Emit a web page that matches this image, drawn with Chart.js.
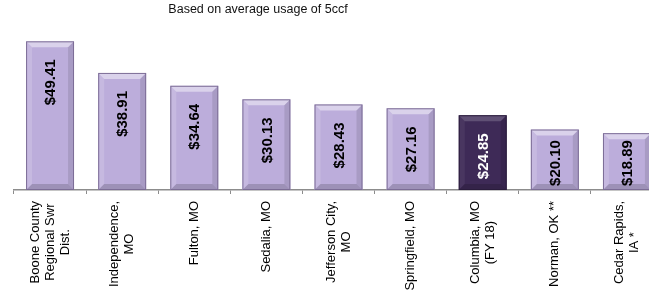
<!DOCTYPE html>
<html>
<head>
<meta charset="utf-8">
<script src="https://cdn.jsdelivr.net/npm/chart.js@4.4.1/dist/chart.umd.min.js"></script>
<style>
  html, body { margin: 0; padding: 0; background: #fff; overflow: hidden; }
  #wrap { width: 670px; height: 292px; }
</style>
</head>
<body>
<div id="wrap"><canvas id="billChart" width="670" height="292"></canvas></div>
<script>
// chart data
const cities = [
  ["Boone County", "Regional Swr", "Dist."],
  ["Independence,", "MO"],
  ["Fulton, MO"],
  ["Sedalia, MO"],
  ["Jefferson City,", "MO"],
  ["Springfield, MO"],
  ["Columbia, MO", "(FY 18)"],
  ["Norman, OK **"],
  ["Cedar Rapids,", "IA *"]
];
const monthlyBill = [49.41, 38.91, 34.64, 30.13, 28.43, 27.16, 24.85, 20.10, 18.89];
const highlightCity = 6; // Columbia
const subtitleText = "Based on average usage of 5ccf";

const LIGHT = "#bcaddb";
const DARK = "#3e2a57";

function fmtMoney(v) {
  return "$" + v.toFixed(2);
}

// bevel look on every bar + value labels
const bevelPlugin = {
  id: "bevel",
  afterDatasetsDraw(chart) {
    const ctx = chart.ctx;
    const meta = chart.getDatasetMeta(0);
    meta.data.forEach((bar, i) => {
      const l = bar.x - bar.width / 2, r = bar.x + bar.width / 2;
      const t = bar.y, b = bar.base;
      const s = 6;
      const dark = i === highlightCity;
      ctx.save();
      // top
      ctx.fillStyle = dark ? "rgba(255,255,255,0.18)" : "rgba(255,255,255,0.45)";
      ctx.beginPath();
      ctx.moveTo(l, t); ctx.lineTo(r, t); ctx.lineTo(r - s, t + s); ctx.lineTo(l + s, t + s);
      ctx.closePath(); ctx.fill();
      // left
      ctx.fillStyle = dark ? "rgba(255,255,255,0.06)" : "rgba(255,255,255,0.15)";
      ctx.beginPath();
      ctx.moveTo(l, t); ctx.lineTo(l + s, t + s); ctx.lineTo(l + s, b - s); ctx.lineTo(l, b);
      ctx.closePath(); ctx.fill();
      // right
      ctx.fillStyle = "rgba(0,0,0,0.10)";
      ctx.beginPath();
      ctx.moveTo(r, t); ctx.lineTo(r - s, t + s); ctx.lineTo(r - s, b - s); ctx.lineTo(r, b);
      ctx.closePath(); ctx.fill();
      // bottom
      ctx.fillStyle = "rgba(0,0,0,0.16)";
      ctx.beginPath();
      ctx.moveTo(l, b); ctx.lineTo(l + s, b - s); ctx.lineTo(r - s, b - s); ctx.lineTo(r, b);
      ctx.closePath(); ctx.fill();
      ctx.strokeStyle = dark ? "#2a1c3c" : "#7c6d96";
      ctx.lineWidth = 1;
      ctx.strokeRect(l + 0.5, t + 0.5, bar.width - 1, b - t - 1);
      ctx.restore();

      // value label, rotated, centred a fixed distance below the bar top
      const txt = fmtMoney(monthlyBill[i]);
      ctx.save();
      ctx.font = "bold 15px 'Liberation Sans', Arial, sans-serif";
      const midY = Math.min(t + 41, b - 27);
      ctx.translate(bar.x, midY);
      ctx.rotate(-Math.PI / 2);
      ctx.textAlign = "center";
      ctx.textBaseline = "middle";
      ctx.fillStyle = dark ? "#ffffff" : "#000000";
      ctx.fillText(txt, 0, 1);
      ctx.restore();
    });
  },
  afterDraw(chart) {
    const ctx = chart.ctx;
    const xScale = chart.scales.x;
    const axisY = xScale.top;
    ctx.save();
    ctx.font = "13px 'Liberation Sans', Arial, sans-serif";
    ctx.fillStyle = "#000";
    const lh = 15;
    cities.forEach((lines, i) => {
      const x = xScale.getPixelForValue(i);
      const W = Math.max(...lines.map(s => ctx.measureText(s).width));
      ctx.save();
      ctx.translate(x, axisY + 11);
      ctx.rotate(-Math.PI / 2);
      ctx.textAlign = "center";
      ctx.textBaseline = "middle";
      lines.forEach((s, j) => {
        ctx.fillText(s, -W / 2, (j - (lines.length - 1) / 2) * lh);
      });
      ctx.restore();
    });
    // subtitle
    ctx.font = "12.5px 'Liberation Sans', Arial, sans-serif";
    ctx.textAlign = "center";
    ctx.textBaseline = "middle";
    ctx.fillStyle = "#111";
    ctx.fillText(subtitleText, 258, 10);
    ctx.restore();
  }
};

new Chart(document.getElementById("billChart"), {
  type: "bar",
  data: {
    labels: cities,
    datasets: [{
      data: monthlyBill,
      backgroundColor: monthlyBill.map((v, i) => i === highlightCity ? DARK : LIGHT),
      borderWidth: 0,
      barPercentage: 0.665,
      categoryPercentage: 1
    }]
  },
  options: {
    responsive: false,
    animation: false,
    layout: { padding: { top: 20, right: 7, bottom: 98, left: 14 } },
    plugins: {
      legend: { display: false },
      tooltip: { enabled: false }
    },
    scales: {
      x: {
        offset: true,
        grid: {
          display: true,
          offset: true,
          drawOnChartArea: false,
          drawTicks: true,
          tickLength: 4,
          color: "#8c8c8c"
        },
        border: { display: true, color: "#8c8c8c", width: 1.5 },
        ticks: { display: false }
      },
      y: {
        display: false,
        min: 0,
        max: 56.5
      }
    }
  },
  plugins: [bevelPlugin]
});
</script>
</body>
</html>
